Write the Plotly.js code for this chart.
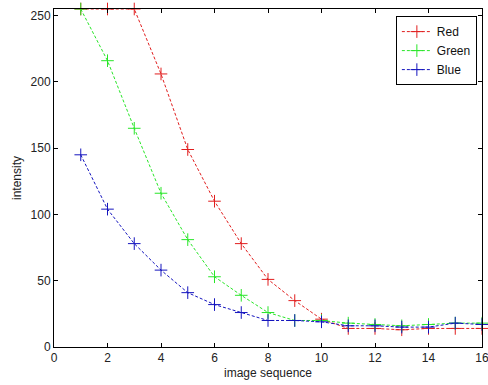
<!DOCTYPE html>
<html>
<head>
<meta charset="utf-8">
<script src="https://cdn.plot.ly/plotly-3.0.1.min.js"></script>
<style>html,body{margin:0;padding:0;background:#fff;}#chart{width:488px;height:385px;}</style>
</head>
<body>
<div id="chart"></div>
<script>
const seq = [1,2,3,4,5,6,7,8,9,10,11,12,13,14,15,16];
const redVals   = [255,255,255,206,149,110,78,51,35,21,14,14,13,14,14,14];
const greenVals = [255,216,165,116,81,53,39,26,20,20,18,17,16,17,18,18];
const blueVals  = [145,104,78,58,41,32,26,20,20,19,16,16,15,15,18,17];
const seriesNames = ['Red','Green','Blue'];
const seriesColors = ['rgb(225,30,30)','rgb(40,230,40)','rgb(20,20,190)'];
const seriesData = [redVals, greenVals, blueVals];
const xTicks = [0,2,4,6,8,10,12,14,16];
const yTicks = [0,50,100,150,200,250];

const traces = seriesData.map((vals,i)=>({
  x: seq, y: vals, name: seriesNames[i], type:'scatter', mode:'lines+markers',
  line:{color:seriesColors[i], dash:'3px,2px', width:1},
  marker:{symbol:'cross-thin-open', size:9, line:{color:seriesColors[i], width:1}},
  cliponaxis:false
}));

const axisCommon = {
  showgrid:false, zeroline:false, showline:true, linecolor:'#000', linewidth:1,
  mirror:'ticks', ticks:'inside', ticklen:4, tickcolor:'#000',
  ticklabeloverflow:'allow',
  tickfont:{family:'Arial, Liberation Sans, sans-serif', size:12, color:'#222'}
};

const layout = {
  width:488, height:385,
  margin:{l:54, r:6, t:9, b:38},
  paper_bgcolor:'#fff', plot_bgcolor:'#fff',
  showlegend:true,
  legend:{x:0.988, y:0.979, xanchor:'right', yanchor:'top', bgcolor:'#fff',
          bordercolor:'#000', borderwidth:1,
          font:{family:'Arial, Liberation Sans, sans-serif', size:12, color:'#111'},
          tracegroupgap:0, itemwidth:30},
  xaxis: Object.assign({}, axisCommon, {range:[0,16], tickvals:xTicks,
          title:{text:'image sequence', standoff:4, font:{family:'Arial, Liberation Sans, sans-serif', size:12, color:'#222'}}}),
  yaxis: Object.assign({}, axisCommon, {range:[0,255], tickvals:yTicks,
          title:{text:'intensity', standoff:6, font:{family:'Arial, Liberation Sans, sans-serif', size:12, color:'#222'}}})
};

Plotly.newPlot('chart', traces, layout, {displayModeBar:false, staticPlot:true});
</script>
</body>
</html>
